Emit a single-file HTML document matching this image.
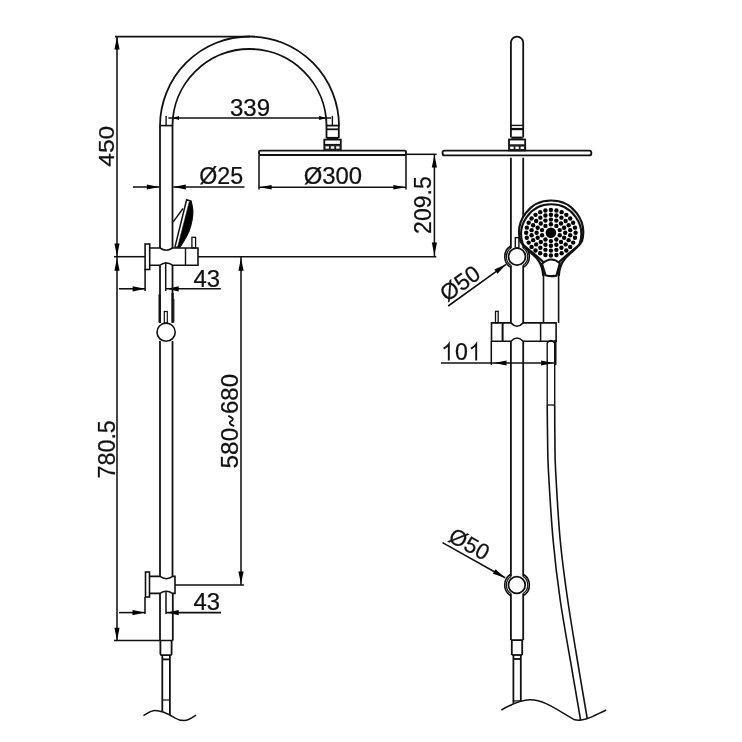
<!DOCTYPE html>
<html><head><meta charset="utf-8"><style>
html,body{margin:0;padding:0;background:#fff;}
svg{display:block;will-change:transform;}
text{font-family:"Liberation Sans",sans-serif;fill:#111;stroke:#111;stroke-width:0.25px;}
</style></head><body>
<svg width="742" height="742" viewBox="0 0 742 742">
<rect x="0" y="0" width="742" height="742" fill="#fff"/>
<g stroke="#111" fill="none" stroke-linecap="butt">
<line x1="115.00" y1="36.60" x2="250.00" y2="36.60" stroke-width="1.55"/>
<line x1="117.00" y1="36.50" x2="117.00" y2="256.70" stroke-width="1.55"/>
<path d="M117.00,37.00 L119.60,49.50 L114.40,49.50 Z" fill="#000" stroke="none"/>
<path d="M117.00,256.00 L114.40,243.50 L119.60,243.50 Z" fill="#000" stroke="none"/>
<text x="0" y="0" font-size="25" transform="translate(114.02 166.75) rotate(-90) scale(0.9839 0.8901)">450</text>
<path d="M160,126 A89.5,89.5 0 0 1 339,126" stroke-width="1.8" fill="none"/>
<path d="M172.5,126 A77,77 0 0 1 326.5,126" stroke-width="1.8" fill="none"/>
<line x1="160.00" y1="125.60" x2="172.50" y2="125.60" stroke-width="1.6"/>
<line x1="166.10" y1="115.90" x2="166.10" y2="125.60" stroke-width="1.4"/>
<line x1="326.50" y1="125.60" x2="338.60" y2="125.60" stroke-width="1.8"/>
<line x1="326.50" y1="129.30" x2="338.60" y2="129.30" stroke-width="1.8"/>
<line x1="332.40" y1="115.80" x2="332.40" y2="125.60" stroke-width="1.4"/>
<line x1="168.30" y1="117.90" x2="331.20" y2="117.90" stroke-width="1.55"/>
<path d="M172.80,117.90 L179.00,115.90 L179.00,119.90 Z" fill="#000" stroke="none"/>
<path d="M326.40,117.90 L319.20,119.90 L319.20,115.90 Z" fill="#000" stroke="none"/>
<text x="0" y="0" font-size="25" transform="translate(229.9 116.05) rotate(0) scale(0.962 0.9577)">339</text>
<line x1="326.50" y1="125.60" x2="326.50" y2="138.00" stroke-width="1.8"/>
<line x1="338.80" y1="125.60" x2="338.80" y2="138.00" stroke-width="1.8"/>
<line x1="326.50" y1="138.00" x2="338.50" y2="138.00" stroke-width="2.2"/>
<rect x="324.30" y="139.60" width="16.50" height="10.50" stroke-width="1.8" fill="none" rx="0"/>
<line x1="324.30" y1="144.80" x2="340.80" y2="144.80" stroke-width="1.8"/>
<rect x="324.30" y="144.80" width="16.50" height="5.30" stroke-width="0" fill="#222" rx="0"/>
<rect x="325.50" y="146.30" width="3.40" height="2.40" stroke-width="0" fill="#fff" rx="0"/>
<rect x="330.80" y="146.30" width="3.40" height="2.40" stroke-width="0" fill="#fff" rx="0"/>
<rect x="336.10" y="146.30" width="3.40" height="2.40" stroke-width="0" fill="#fff" rx="0"/>
<rect x="259.00" y="150.60" width="147.00" height="4.40" stroke-width="1.9" fill="none" rx="1.5"/>
<line x1="259.00" y1="155.00" x2="259.00" y2="189.50" stroke-width="1.55"/>
<line x1="406.00" y1="155.00" x2="406.00" y2="189.50" stroke-width="1.55"/>
<line x1="259.00" y1="187.20" x2="406.00" y2="187.20" stroke-width="1.55"/>
<path d="M259.60,187.20 L271.60,184.90 L271.60,189.50 Z" fill="#000" stroke="none"/>
<path d="M405.40,187.20 L393.40,189.50 L393.40,184.90 Z" fill="#000" stroke="none"/>
<text x="0" y="0" font-size="25" transform="translate(303.65 184.32) rotate(0) scale(0.9553 0.9568)">Ø300</text>
<line x1="406.00" y1="154.30" x2="436.60" y2="154.30" stroke-width="1.55"/>
<line x1="434.40" y1="155.00" x2="434.40" y2="256.70" stroke-width="1.55"/>
<path d="M434.40,155.10 L437.00,167.60 L431.80,167.60 Z" fill="#000" stroke="none"/>
<path d="M434.40,255.00 L431.80,242.50 L437.00,242.50 Z" fill="#000" stroke="none"/>
<text x="0" y="0" font-size="25" transform="translate(431.4 233.9) rotate(-90) scale(0.9228 0.9239)">209.5</text>
<line x1="198.00" y1="256.70" x2="436.30" y2="256.70" stroke-width="1.55"/>
<line x1="114.00" y1="256.70" x2="145.00" y2="256.70" stroke-width="1.55"/>
<line x1="133.00" y1="187.00" x2="159.30" y2="187.00" stroke-width="1.55"/>
<path d="M159.30,187.00 L146.80,189.60 L146.80,184.40 Z" fill="#000" stroke="none"/>
<line x1="173.30" y1="187.00" x2="244.50" y2="187.00" stroke-width="1.55"/>
<path d="M173.30,187.00 L185.80,184.40 L185.80,189.60 Z" fill="#000" stroke="none"/>
<text x="0" y="0" font-size="25" transform="translate(199.22 184.1) rotate(0) scale(0.9282 0.9838)">Ø25</text>
<line x1="160.00" y1="125.60" x2="160.00" y2="248.00" stroke-width="1.8"/>
<line x1="172.50" y1="125.60" x2="172.50" y2="248.00" stroke-width="1.8"/>
<path d="M186.6,199.8 L191.0,201.2 C191.27,202.67 192.43,206.97 192.6,210 C192.77,213.03 192.65,215.80 192.0,219.4 C191.35,223.00 190.10,228.00 188.7,231.6 C187.30,235.20 185.12,238.37 183.6,241 C182.08,243.63 180.27,246.33 179.6,247.4 L175.0,246.9 Z" stroke-width="1.5" fill="#fff"/>
<path d="M189.2,202.0 L191.0,201.2 C191.27,202.67 192.43,206.97 192.6,210 C192.77,213.03 192.65,215.80 192.0,219.4 C191.35,223.00 190.10,228.00 188.7,231.6 C187.30,235.20 185.12,238.37 183.6,241 C182.08,243.63 180.27,246.33 179.6,247.4 L177.6,247.2 Z" stroke-width="0.6" fill="#000"/>
<line x1="173.00" y1="222.10" x2="183.00" y2="208.50" stroke-width="1.4"/>
<rect x="145.10" y="244.00" width="4.60" height="25.50" stroke-width="1.6" fill="none" rx="0"/>
<path d="M149.7,248 L160,248 Q166.2,252.5 172.5,248 L198,248 L198,265.2 L172.5,265.2 Q166.2,260.7 160,265.2 L149.7,265.2" stroke-width="1.6" fill="none"/>
<line x1="185.50" y1="248.00" x2="185.50" y2="265.20" stroke-width="1.4"/>
<rect x="191.90" y="237.30" width="3.70" height="10.70" stroke-width="1.3" fill="none" rx="0"/>
<line x1="117.00" y1="256.70" x2="117.00" y2="640.50" stroke-width="1.55"/>
<path d="M117.00,258.30 L119.60,270.80 L114.40,270.80 Z" fill="#000" stroke="none"/>
<path d="M117.00,640.30 L114.40,627.80 L119.60,627.80 Z" fill="#000" stroke="none"/>
<text x="0" y="0" font-size="25" transform="translate(114.57 478.4) rotate(-90) scale(0.9311 0.9408)">780.5</text>
<line x1="241.00" y1="256.70" x2="241.00" y2="585.00" stroke-width="1.55"/>
<path d="M241.00,258.30 L243.60,270.80 L238.40,270.80 Z" fill="#000" stroke="none"/>
<path d="M241.00,584.00 L238.40,571.50 L243.60,571.50 Z" fill="#000" stroke="none"/>
<text x="0" y="0" font-size="25" transform="translate(238.4 468.48) rotate(-90) scale(0.9761 0.9239)">580</text>
<text x="0" y="0" font-size="25" transform="translate(238.4 413.98) rotate(-90) scale(0.9595 0.9239)">680</text>
<path d="M234.3,426.2 C229.5,424.5 228.5,422.5 231.3,421 C234,419.5 233,417.5 228.3,415.8" stroke-width="1.8" fill="none"/>
<line x1="145.10" y1="269.00" x2="145.10" y2="291.00" stroke-width="1.55"/>
<line x1="118.90" y1="288.80" x2="145.10" y2="288.80" stroke-width="1.55"/>
<path d="M145.10,288.80 L132.60,291.40 L132.60,286.20 Z" fill="#000" stroke="none"/>
<line x1="166.00" y1="288.80" x2="220.80" y2="288.80" stroke-width="1.55"/>
<path d="M167.00,288.80 L178.70,286.20 L178.70,291.40 Z" fill="#000" stroke="none"/>
<text x="0" y="0" font-size="25" transform="translate(193.45 286.58) rotate(0) scale(0.9562 0.9408)">43</text>
<line x1="160.00" y1="265.20" x2="160.00" y2="323.00" stroke-width="1.8"/>
<line x1="172.50" y1="265.20" x2="172.50" y2="323.00" stroke-width="1.8"/>
<line x1="165.70" y1="262.00" x2="165.70" y2="291.00" stroke-width="1.5"/>
<line x1="173.90" y1="299.00" x2="173.90" y2="322.50" stroke-width="1.0"/>
<line x1="159.60" y1="294.30" x2="159.60" y2="322.50" stroke-width="2.2"/>
<line x1="172.60" y1="293.00" x2="172.60" y2="322.50" stroke-width="2.2"/>
<rect x="164.30" y="311.50" width="3.00" height="11.50" stroke-width="1.2" fill="none" rx="0"/>
<circle cx="166.10" cy="332.20" r="9.10" stroke-width="1.6" fill="none"/>
<line x1="160.00" y1="341.00" x2="160.00" y2="576.40" stroke-width="1.8"/>
<line x1="172.50" y1="341.00" x2="172.50" y2="576.40" stroke-width="1.8"/>
<rect x="145.50" y="572.00" width="4.00" height="25.00" stroke-width="1.6" fill="none" rx="0"/>
<path d="M149.5,576.4 L160,576.4 Q166.2,581 172.8,576.4 L175,576.4 L175,593.4 L172.5,593.4 Q166.2,589 160,593.4 L149.5,593.4" stroke-width="1.6" fill="none"/>
<line x1="175.00" y1="585.00" x2="244.00" y2="585.00" stroke-width="1.55"/>
<line x1="145.00" y1="597.00" x2="145.00" y2="614.00" stroke-width="1.55"/>
<line x1="119.00" y1="612.60" x2="145.00" y2="612.60" stroke-width="1.55"/>
<path d="M145.00,612.60 L132.50,615.20 L132.50,610.00 Z" fill="#000" stroke="none"/>
<line x1="166.00" y1="612.60" x2="221.00" y2="612.60" stroke-width="1.55"/>
<path d="M167.00,612.60 L178.70,610.00 L178.70,615.20 Z" fill="#000" stroke="none"/>
<text x="0" y="0" font-size="25" transform="translate(193.45 610.15) rotate(0) scale(0.9562 0.9296)">43</text>
<line x1="160.00" y1="593.40" x2="160.00" y2="640.50" stroke-width="1.8"/>
<line x1="172.80" y1="593.40" x2="172.80" y2="640.50" stroke-width="1.8"/>
<line x1="166.00" y1="591.00" x2="166.00" y2="614.00" stroke-width="1.5"/>
<line x1="114.00" y1="640.50" x2="172.80" y2="640.50" stroke-width="1.55"/>
<path d="M160.4,640.5 L160.4,654 L161.2,655.2 L170.8,655.2 L171.6,654 L171.6,640.5" stroke-width="1.8" fill="none"/>
<line x1="162.20" y1="659.40" x2="169.90" y2="659.40" stroke-width="1.8"/>
<line x1="162.30" y1="655.20" x2="162.30" y2="712.00" stroke-width="1.8"/>
<line x1="169.90" y1="655.20" x2="169.90" y2="715.00" stroke-width="1.8"/>
<line x1="162.30" y1="700.00" x2="169.80" y2="700.00" stroke-width="1.2"/>
<path d="M143.5,715.6 C148,713 151,710.6 155,710.6 C163,710.6 170,715 175,718 C178,720 181,720.6 184,720.6 C188,720.6 192,718 196,715.2" stroke-width="1.5" fill="none"/>
<path d="M510.9,137.6 L510.9,42.7 A6.15,6.15 0 0 1 523.2,42.7 L523.2,137.6" stroke-width="1.8" fill="none"/>
<line x1="510.80" y1="125.40" x2="523.20" y2="125.40" stroke-width="1.4"/>
<line x1="510.80" y1="128.60" x2="523.20" y2="128.60" stroke-width="1.4"/>
<line x1="510.90" y1="129.60" x2="523.20" y2="129.60" stroke-width="1.2"/>
<line x1="511.40" y1="137.70" x2="522.70" y2="137.70" stroke-width="2.2"/>
<rect x="509.00" y="139.50" width="16.20" height="10.90" stroke-width="1.8" fill="none" rx="0"/>
<line x1="509.00" y1="145.20" x2="525.20" y2="145.20" stroke-width="1.8"/>
<rect x="509.00" y="145.20" width="16.20" height="5.20" stroke-width="0" fill="#222" rx="0"/>
<rect x="510.20" y="146.60" width="3.40" height="2.40" stroke-width="0" fill="#fff" rx="0"/>
<rect x="515.40" y="146.60" width="3.40" height="2.40" stroke-width="0" fill="#fff" rx="0"/>
<rect x="520.60" y="146.60" width="3.40" height="2.40" stroke-width="0" fill="#fff" rx="0"/>
<rect x="442.60" y="150.60" width="148.70" height="4.80" stroke-width="1.9" fill="none" rx="2"/>
<line x1="510.90" y1="157.70" x2="510.90" y2="248.20" stroke-width="1.8"/>
<line x1="523.20" y1="157.70" x2="523.20" y2="248.20" stroke-width="1.8"/>
<rect x="515.30" y="237.60" width="3.60" height="10.40" stroke-width="1.4" fill="none" rx="0"/>
<path d="M510.9,246 A12.4,12.4 0 0 0 510.9,267.4" stroke-width="1.6" fill="none"/>
<path d="M523.2,246 A12.4,12.4 0 0 1 523.2,267.4" stroke-width="1.6" fill="none"/>
<path d="M510.9,248.1 A10.4,10.4 0 0 0 510.9,265.3" stroke-width="1.2" fill="none"/>
<path d="M523.2,248.1 A10.4,10.4 0 0 1 523.2,265.3" stroke-width="1.2" fill="none"/>
<circle cx="517.00" cy="256.70" r="8.50" stroke-width="1.8" fill="none"/>
<line x1="510.90" y1="265.20" x2="510.90" y2="322.90" stroke-width="1.8"/>
<line x1="523.20" y1="265.20" x2="523.20" y2="322.90" stroke-width="1.8"/>
<line x1="448.20" y1="306.00" x2="506.10" y2="264.30" stroke-width="1.55"/>
<path d="M506.10,264.30 L497.48,273.72 L494.44,269.50 Z" fill="#000" stroke="none"/>
<text x="0" y="0" font-size="25" transform="translate(446.92 302.38) rotate(-35.7) scale(0.9202 0.9202)">Ø50</text>
<path d="M543.3,276 C542.8,269 541.5,264 537,258.5 C531,252 523,247 520.3,241 A32,32 0 1 1 582.0,241 C579,247 571,252 565,258.5 C560.5,264 559.2,269 558.7,276" stroke-width="2.2" fill="#fff"/>
<path d="M543.5,262.5 C539,257 529,250.5 523.0,244.5 A30,30 0 1 1 579.4,244.5 C573.4,250.5 563.4,257 558.9,262.5" stroke-width="2.1" fill="none"/>
<path d="M542,263.7 Q551.2,255.5 559.8,263.2 L556.4,275.6 Q551,276.8 545.5,275.2 Z" stroke-width="2.1" fill="#fff"/>
<circle cx="550.9" cy="232.7" r="5.3" fill="#000" stroke="none"/>
<circle cx="550.90" cy="224.30" r="2.2" fill="#000" stroke="none"/>
<circle cx="556.37" cy="225.90" r="2.2" fill="#000" stroke="none"/>
<circle cx="559.74" cy="230.10" r="2.2" fill="#000" stroke="none"/>
<circle cx="559.74" cy="235.30" r="2.2" fill="#000" stroke="none"/>
<circle cx="556.37" cy="239.50" r="2.2" fill="#000" stroke="none"/>
<circle cx="550.90" cy="241.10" r="2.2" fill="#000" stroke="none"/>
<circle cx="545.43" cy="239.50" r="2.2" fill="#000" stroke="none"/>
<circle cx="542.06" cy="235.30" r="2.2" fill="#000" stroke="none"/>
<circle cx="542.06" cy="230.10" r="2.2" fill="#000" stroke="none"/>
<circle cx="545.43" cy="225.90" r="2.2" fill="#000" stroke="none"/>
<circle cx="550.90" cy="219.60" r="2.2" fill="#000" stroke="none"/>
<circle cx="556.37" cy="220.60" r="2.2" fill="#000" stroke="none"/>
<circle cx="561.01" cy="223.44" r="2.2" fill="#000" stroke="none"/>
<circle cx="564.11" cy="227.69" r="2.2" fill="#000" stroke="none"/>
<circle cx="565.20" cy="232.70" r="2.2" fill="#000" stroke="none"/>
<circle cx="564.11" cy="237.71" r="2.2" fill="#000" stroke="none"/>
<circle cx="561.01" cy="241.96" r="2.2" fill="#000" stroke="none"/>
<circle cx="556.37" cy="244.80" r="2.2" fill="#000" stroke="none"/>
<circle cx="550.90" cy="245.80" r="2.2" fill="#000" stroke="none"/>
<circle cx="545.43" cy="244.80" r="2.2" fill="#000" stroke="none"/>
<circle cx="540.79" cy="241.96" r="2.2" fill="#000" stroke="none"/>
<circle cx="537.69" cy="237.71" r="2.2" fill="#000" stroke="none"/>
<circle cx="536.60" cy="232.70" r="2.2" fill="#000" stroke="none"/>
<circle cx="537.69" cy="227.69" r="2.2" fill="#000" stroke="none"/>
<circle cx="540.79" cy="223.44" r="2.2" fill="#000" stroke="none"/>
<circle cx="545.43" cy="220.60" r="2.2" fill="#000" stroke="none"/>
<circle cx="550.90" cy="214.80" r="2.2" fill="#000" stroke="none"/>
<circle cx="556.39" cy="215.53" r="2.2" fill="#000" stroke="none"/>
<circle cx="561.44" cy="217.64" r="2.2" fill="#000" stroke="none"/>
<circle cx="565.64" cy="220.98" r="2.2" fill="#000" stroke="none"/>
<circle cx="568.64" cy="225.26" r="2.2" fill="#000" stroke="none"/>
<circle cx="570.20" cy="230.15" r="2.2" fill="#000" stroke="none"/>
<circle cx="570.20" cy="235.25" r="2.2" fill="#000" stroke="none"/>
<circle cx="568.64" cy="240.14" r="2.2" fill="#000" stroke="none"/>
<circle cx="565.64" cy="244.42" r="2.2" fill="#000" stroke="none"/>
<circle cx="561.44" cy="247.76" r="2.2" fill="#000" stroke="none"/>
<circle cx="556.39" cy="249.87" r="2.2" fill="#000" stroke="none"/>
<circle cx="550.90" cy="250.60" r="2.2" fill="#000" stroke="none"/>
<circle cx="545.41" cy="249.87" r="2.2" fill="#000" stroke="none"/>
<circle cx="540.36" cy="247.76" r="2.2" fill="#000" stroke="none"/>
<circle cx="536.16" cy="244.42" r="2.2" fill="#000" stroke="none"/>
<circle cx="533.16" cy="240.14" r="2.2" fill="#000" stroke="none"/>
<circle cx="531.60" cy="235.25" r="2.2" fill="#000" stroke="none"/>
<circle cx="531.60" cy="230.15" r="2.2" fill="#000" stroke="none"/>
<circle cx="533.16" cy="225.26" r="2.2" fill="#000" stroke="none"/>
<circle cx="536.16" cy="220.98" r="2.2" fill="#000" stroke="none"/>
<circle cx="540.36" cy="217.64" r="2.2" fill="#000" stroke="none"/>
<circle cx="545.41" cy="215.53" r="2.2" fill="#000" stroke="none"/>
<circle cx="550.90" cy="209.90" r="2.2" fill="#000" stroke="none"/>
<circle cx="556.40" cy="210.47" r="2.2" fill="#000" stroke="none"/>
<circle cx="561.62" cy="212.16" r="2.2" fill="#000" stroke="none"/>
<circle cx="566.30" cy="214.87" r="2.2" fill="#000" stroke="none"/>
<circle cx="570.21" cy="218.48" r="2.2" fill="#000" stroke="none"/>
<circle cx="573.15" cy="222.81" r="2.2" fill="#000" stroke="none"/>
<circle cx="574.98" cy="227.63" r="2.2" fill="#000" stroke="none"/>
<circle cx="575.60" cy="232.70" r="2.2" fill="#000" stroke="none"/>
<circle cx="574.98" cy="237.77" r="2.2" fill="#000" stroke="none"/>
<circle cx="573.15" cy="242.59" r="2.2" fill="#000" stroke="none"/>
<circle cx="570.21" cy="246.92" r="2.2" fill="#000" stroke="none"/>
<circle cx="566.30" cy="250.53" r="2.2" fill="#000" stroke="none"/>
<circle cx="561.62" cy="253.24" r="2.2" fill="#000" stroke="none"/>
<circle cx="556.40" cy="254.93" r="2.2" fill="#000" stroke="none"/>
<circle cx="550.90" cy="255.50" r="2.2" fill="#000" stroke="none"/>
<circle cx="545.40" cy="254.93" r="2.2" fill="#000" stroke="none"/>
<circle cx="540.18" cy="253.24" r="2.2" fill="#000" stroke="none"/>
<circle cx="535.50" cy="250.53" r="2.2" fill="#000" stroke="none"/>
<circle cx="531.59" cy="246.92" r="2.2" fill="#000" stroke="none"/>
<circle cx="528.65" cy="242.59" r="2.2" fill="#000" stroke="none"/>
<circle cx="526.82" cy="237.77" r="2.2" fill="#000" stroke="none"/>
<circle cx="526.20" cy="232.70" r="2.2" fill="#000" stroke="none"/>
<circle cx="526.82" cy="227.63" r="2.2" fill="#000" stroke="none"/>
<circle cx="528.65" cy="222.81" r="2.2" fill="#000" stroke="none"/>
<circle cx="531.59" cy="218.48" r="2.2" fill="#000" stroke="none"/>
<circle cx="535.50" cy="214.87" r="2.2" fill="#000" stroke="none"/>
<circle cx="540.18" cy="212.16" r="2.2" fill="#000" stroke="none"/>
<circle cx="545.40" cy="210.47" r="2.2" fill="#000" stroke="none"/>
<line x1="543.50" y1="270.00" x2="543.50" y2="322.90" stroke-width="1.6"/>
<line x1="558.60" y1="270.00" x2="558.60" y2="322.90" stroke-width="1.6"/>
<path d="M491.5,322.9 L510.9,322.9 Q517,329.5 523.2,322.9 L556.1,322.9 L556.1,341.3 L523.2,341.3 Q517,334.7 510.9,341.3 L491.5,341.3 Z" stroke-width="1.6" fill="none"/>
<line x1="502.60" y1="322.90" x2="502.60" y2="341.30" stroke-width="2.0"/>
<line x1="540.60" y1="322.90" x2="540.60" y2="341.30" stroke-width="1.5"/>
<rect x="495.50" y="311.30" width="2.70" height="11.60" stroke-width="1.3" fill="none" rx="0"/>
<line x1="510.90" y1="341.30" x2="510.90" y2="576.60" stroke-width="1.8"/>
<line x1="523.20" y1="341.30" x2="523.20" y2="576.60" stroke-width="1.8"/>
<path d="M547.2,405 L547.2,343 Q551,338 554.7,343 L554.7,405" stroke-width="1.4" fill="none"/>
<line x1="555.40" y1="340.00" x2="555.40" y2="365.00" stroke-width="2.2"/>
<line x1="547.20" y1="405.00" x2="554.70" y2="405.00" stroke-width="1.3"/>
<line x1="491.30" y1="341.30" x2="491.30" y2="365.00" stroke-width="1.55"/>
<line x1="441.00" y1="363.00" x2="555.50" y2="363.00" stroke-width="1.55"/>
<path d="M494.00,363.00 L506.50,360.40 L506.50,365.60 Z" fill="#000" stroke="none"/>
<path d="M553.60,363.00 L541.10,365.60 L541.10,360.40 Z" fill="#000" stroke="none"/>
<text x="0" y="0" font-size="25" transform="translate(454.95 360.38) rotate(0) scale(0.925 0.9239)">0</text>
<path d="M443.6,348.6 C446,347.2 447.6,346 448.8,344.2 L448.8,360.6" stroke-width="1.9" fill="none"/>
<path d="M471.0,348.6 C473.4,347.2 475.0,346 476.2,344.2 L476.2,360.6" stroke-width="1.9" fill="none"/>
<path d="M547.2,405 C547.27,410.83 547.40,429.17 547.6,440 C547.80,450.83 547.48,453.33 548.4,470 C549.32,486.67 551.13,518.33 553.1,540 C555.07,561.67 557.05,578.33 560.2,600 C563.35,621.67 568.58,649.90 572,670 C575.42,690.10 579.25,712.17 580.7,720.6" stroke-width="1.6" fill="none"/>
<path d="M554.7,405 C554.73,410.83 554.75,429.17 554.9,440 C555.05,450.83 554.72,453.33 555.6,470 C556.48,486.67 558.18,518.33 560.2,540 C562.22,561.67 564.57,578.33 567.7,600 C570.83,621.67 575.73,650.17 579,670 C582.27,689.83 585.92,710.83 587.3,719" stroke-width="1.6" fill="none"/>
<path d="M510.9,574.2 A12.5,12.5 0 0 0 510.9,595.8" stroke-width="1.6" fill="none"/>
<path d="M523.2,574.2 A12.5,12.5 0 0 1 523.2,595.8" stroke-width="1.6" fill="none"/>
<path d="M510.9,576.4 A10.4,10.4 0 0 0 510.9,593.6" stroke-width="1.2" fill="none"/>
<path d="M523.2,576.4 A10.4,10.4 0 0 1 523.2,593.6" stroke-width="1.2" fill="none"/>
<circle cx="516.80" cy="585.00" r="8.40" stroke-width="1.8" fill="none"/>
<line x1="510.90" y1="593.40" x2="510.90" y2="640.00" stroke-width="1.8"/>
<line x1="523.20" y1="593.40" x2="523.20" y2="640.00" stroke-width="1.8"/>
<line x1="442.50" y1="542.60" x2="505.10" y2="577.70" stroke-width="1.55"/>
<path d="M505.10,577.70 L492.93,573.85 L495.47,569.32 Z" fill="#000" stroke="none"/>
<text x="0" y="0" font-size="25" transform="translate(447.08 540.58) rotate(28.9) scale(0.894 0.894)">Ø50</text>
<line x1="511.80" y1="640.00" x2="511.80" y2="655.00" stroke-width="1.8"/>
<line x1="522.20" y1="640.00" x2="522.20" y2="655.00" stroke-width="1.8"/>
<line x1="510.90" y1="640.10" x2="523.20" y2="640.10" stroke-width="1.8"/>
<line x1="511.80" y1="655.00" x2="522.20" y2="655.00" stroke-width="1.8"/>
<line x1="513.40" y1="659.00" x2="520.80" y2="659.00" stroke-width="1.8"/>
<line x1="513.40" y1="655.00" x2="513.40" y2="703.00" stroke-width="1.8"/>
<line x1="520.80" y1="655.00" x2="520.80" y2="701.00" stroke-width="1.8"/>
<line x1="512.90" y1="700.90" x2="520.90" y2="700.90" stroke-width="1.2"/>
<path d="M501.4,710 C510,705 520,700 530,699.8 C545,699.6 560,712 574.7,719.8 C585,722 595,715 606.2,710" stroke-width="1.5" fill="none"/>
</g>
</svg>
</body></html>
